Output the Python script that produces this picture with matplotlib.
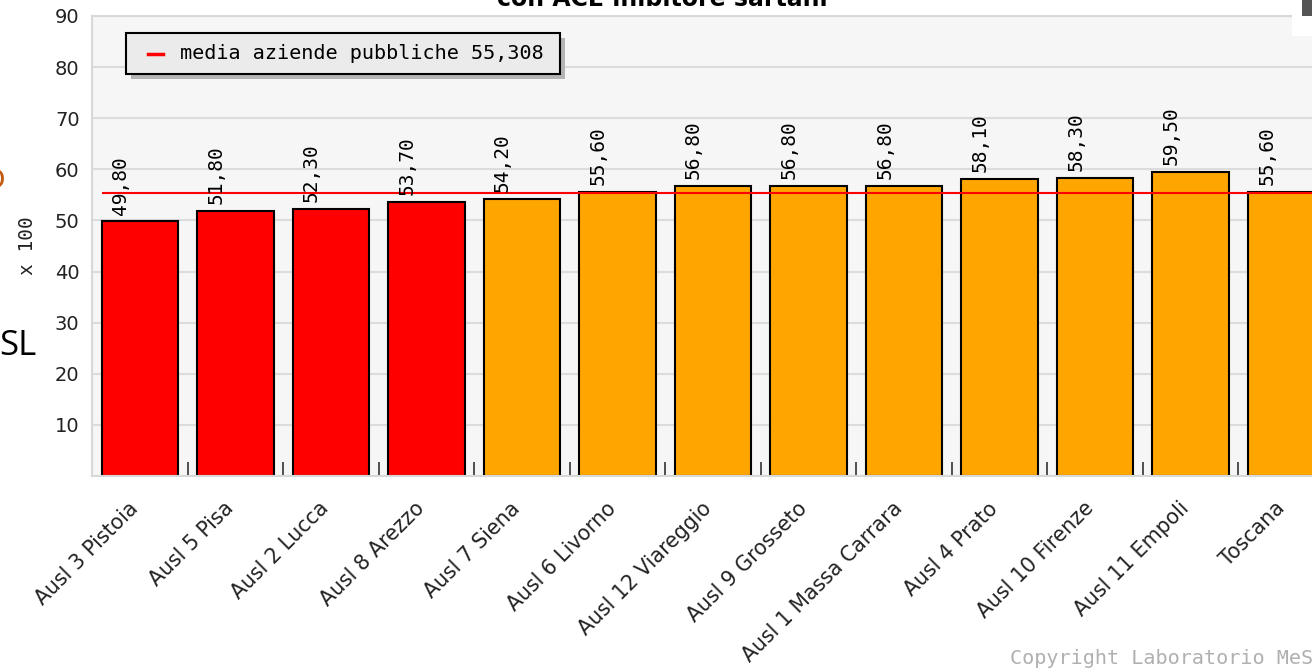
import matplotlib
matplotlib.use("Agg")
import matplotlib.pyplot as plt
import matplotlib.patches as mpatches
import matplotlib.transforms as mtransforms
from matplotlib.lines import Line2D

# Dati: aziende, valori (x 100) e fascia di colore
aziende = ['Ausl 3 Pistoia', 'Ausl 5 Pisa', 'Ausl 2 Lucca', 'Ausl 8 Arezzo',
           'Ausl 7 Siena', 'Ausl 6 Livorno', 'Ausl 12 Viareggio', 'Ausl 9 Grosseto',
           'Ausl 1 Massa Carrara', 'Ausl 4 Prato', 'Ausl 10 Firenze',
           'Ausl 11 Empoli', 'Toscana']
valori = [49.80, 51.80, 52.30, 53.70, 54.20, 55.60, 56.80, 56.80, 56.80,
          58.10, 58.30, 59.50, 55.60]
fasce = ['rosso'] * 4 + ['arancio'] * 9
media = 55.308
yticks = [10, 20, 30, 40, 50, 60, 70, 80, 90]

colori_fascia = {'rosso': '#ff0000', 'arancio': '#ffa500'}
mono = ['DejaVu Sans Mono']
sans = ['DejaVu Sans']

fig = plt.figure(figsize=(13.12, 6.68), dpi=100)
fig.patch.set_facecolor('white')
ax = fig.add_axes([92 / 1312, 1 - 476 / 668, 1242 / 1312, 460 / 668])
ax.set_facecolor('#f6f6f6')

x = list(range(len(aziende)))
colori = [colori_fascia[f] for f in fasce]
ax.bar(x, valori, width=0.8, color=colori, edgecolor='black', linewidth=1.5, zorder=2)

# linea della media
ax.hlines(media, -0.4, len(aziende) - 0.5, color='red', linewidth=1.5, zorder=3)

# etichette dei valori sopra le barre
for xi, v in zip(x, valori):
    ax.annotate(f'{v:.2f}'.replace('.', ','), (xi, v), xytext=(-14, 5),
                textcoords='offset points', rotation=90, ha='center', va='bottom',
                fontsize=14, family=mono, color='black')

ax.set_xlim(-0.5, len(aziende) - 0.5)
ax.set_ylim(0, 90)
ax.set_yticks(yticks)
ax.set_yticklabels([str(t) for t in yticks], fontsize=14, family=sans, color='#222222')
ax.tick_params(axis='y', length=0, pad=9)
ax.yaxis.grid(True, color='#dcdcdc', linewidth=1.5, zorder=0)
ax.set_axisbelow(True)

ax.set_xticks(x)
ax.set_xticklabels(aziende, rotation=45, ha='right', rotation_mode='anchor',
                   fontsize=14.8, family=sans, color='#222222')
ax.tick_params(axis='x', length=0, pad=16)
spostamento = mtransforms.ScaledTranslation(-12 / 100, 0, fig.dpi_scale_trans)
for lab in ax.get_xticklabels():
    lab.set_transform(lab.get_transform() + spostamento)
ax.set_xticks([i + 0.5 for i in x[:-1]], minor=True)
ax.tick_params(axis='x', which='minor', direction='in', length=10, width=1.2,
               color='#333333')

for s in ax.spines.values():
    s.set_color('#d8d8d8')
    s.set_linewidth(1.5)

ax.set_ylabel('x 100', family=mono, fontsize=14, color='#222222')
ax.yaxis.set_label_coords(-55 / 1242, 0.5)

# riquadro della legenda con ombra
px = mtransforms.offset_copy(ax.transAxes, fig=fig, x=5, y=-5, units='dots')
lx, ly, lw, lh = 34 / 1242, (476 - 74) / 460, 434 / 1242, 41 / 460
ax.add_patch(mpatches.Rectangle((lx, ly), lw, lh, transform=px,
                                facecolor='#b4b4b4', edgecolor='none', zorder=5))
ax.add_patch(mpatches.Rectangle((lx, ly), lw, lh, transform=ax.transAxes,
                                facecolor='#ebebeb', edgecolor='black',
                                linewidth=1.5, zorder=6))
ax.add_line(Line2D([56 / 1242, 71 / 1242], [ly + lh / 2] * 2, transform=ax.transAxes,
                   color='red', linewidth=2.5, zorder=7))
ax.text(88 / 1242, ly + lh / 2, 'media aziende pubbliche 55,308',
        transform=ax.transAxes, va='center', ha='left', fontsize=14.5,
        family=mono, color='black', zorder=7)

# titolo (tagliato in alto) e testi a margine
fig.text(662 / 1312, 1 - 6 / 668, 'con ACE inibitore sartani', ha='center',
         va='baseline', fontsize=17, fontweight='bold', family=sans, color='black')
fig.text(1010 / 1312, 1 - 664 / 668, 'Copyright Laboratorio MeS', ha='left',
         va='baseline', fontsize=14.5, family=mono, color='#b0b0b0')
fig.text(-1 / 1312, 1 - 355 / 668, 'SL', ha='left', va='baseline', fontsize=25,
         family=['Open Sans', 'DejaVu Sans'], color='black')
fig.text(-16 / 1312, 1 - 188 / 668, 'o', ha='left', va='baseline', fontsize=25,
         family=['Open Sans', 'DejaVu Sans'], color='#c55a11')

# ritaglio in alto a destra
fig.patches.append(mpatches.Rectangle((1292 / 1312, 1 - 36 / 668), 20 / 1312, 36 / 668,
                                      transform=fig.transFigure, facecolor='white',
                                      edgecolor='none', zorder=10))
fig.patches.append(mpatches.Rectangle((1302 / 1312, 1 - 16 / 668), 10 / 1312, 16 / 668,
                                      transform=fig.transFigure, facecolor='#555555',
                                      edgecolor='none', zorder=11))

fig.savefig('out.png', dpi=100)
